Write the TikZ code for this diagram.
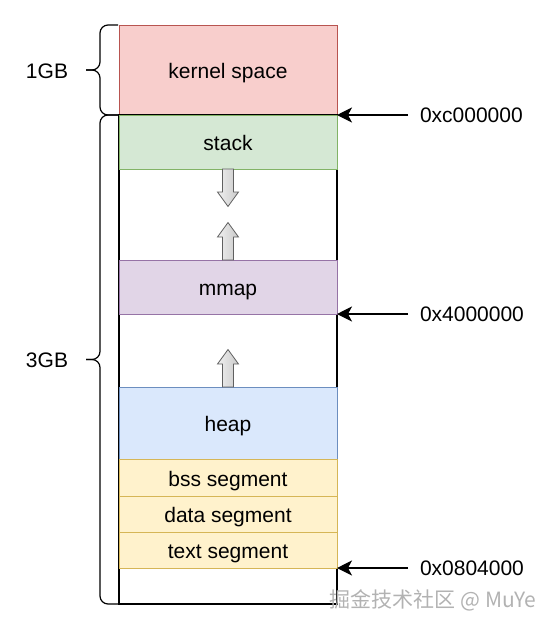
\documentclass[tikz,border=0pt]{standalone}
\usepackage{fontspec}
\setmainfont{Liberation Sans}
\newfontfamily\cjkfont{Noto Sans CJK SC}
\usetikzlibrary{positioning, calc, arrows.meta}
\definecolor{kernelfill}{HTML}{F8CECC}
\definecolor{kernelline}{HTML}{B85450}
\definecolor{stackfill}{HTML}{D5E8D4}
\definecolor{stackline}{HTML}{82B366}
\definecolor{mmapfill}{HTML}{E1D5E7}
\definecolor{mmapline}{HTML}{9673A6}
\definecolor{heapfill}{HTML}{DAE8FC}
\definecolor{heapline}{HTML}{6C8EBF}
\definecolor{segfill}{HTML}{FFF2CC}
\definecolor{segline}{HTML}{D6B656}
\tikzset{>={Stealth[length=15pt,width=15pt,inset=4pt]}}
\tikzset{
    region/.style={draw, line width=1pt, minimum width=218pt, inner sep=0pt, outer sep=0pt,
        text height=17pt, text depth=0pt},
    userbox/.style={draw=black, line width=1.2pt, minimum width=218pt, inner sep=0pt, outer sep=0pt},
    addr/.style={anchor=west, inner xsep=12pt, inner ysep=2pt, outer sep=0pt},
    pointer/.style={->, line width=1.2pt},
    gbrace/.style={line width=1.2pt, rounded corners=8pt},
    blockarrow/.pic={
        \draw[draw=gray!75!black, line width=0.8pt, left color=gray!12, right color=gray!42]
            (-0.55,0) -- (-0.55,2.3) -- (-1.05,2.3) -- (0,3.75) -- (1.05,2.3) -- (0.55,2.3) -- (0.55,0) -- cycle;
    }
}

\begin{document}
\begin{tikzpicture}[x=10pt, y=-10pt, font=\fontsize{21}{25}\selectfont]
    \useasboundingbox (0,0) rectangle (56,63);
    % kernel and user space
    \node[region, fill=kernelfill, draw=kernelline, minimum height=90pt] (kernel) at (22.8,7.0) {kernel space};
    \node[userbox, minimum height=489pt, below=0pt of kernel] (user) {};
    \node[region, fill=stackfill, draw=stackline, minimum height=54pt, below=0pt of kernel] (stack) {stack};
    \node[region, fill=mmapfill, draw=mmapline, minimum height=54pt, below=91pt of stack] (mmap) {mmap};
    \node[region, fill=heapfill, draw=heapline, minimum height=72pt, below=73pt of mmap] (heap) {heap};
    \node[region, fill=segfill, draw=segline, minimum height=37pt, below=0pt of heap] (bss) {bss segment};
    \node[region, fill=segfill, draw=segline, minimum height=36pt, below=0pt of bss] (data) {data segment};
    \node[region, fill=segfill, draw=segline, minimum height=36pt, below=0pt of data] (text) {text segment};
    % growth arrows
    \pic at (stack.south) {blockarrow};
    \pic[yscale=-1] at (mmap.north) {blockarrow};
    \pic[yscale=-1] at (heap.north) {blockarrow};
    % addresses
    \node[addr] (kaddr) at (kernel.south east -| 40.8,0) {0xc000000};
    \node[addr] (maddr) at (mmap.south east -| 40.8,0) {0x4000000};
    \node[addr] (taddr) at (text.south east -| 40.8,0) {0x0804000};
    \draw[pointer] (kaddr.west) -- (kernel.south east);
    \draw[pointer] (maddr.west) -- (mmap.south east);
    \draw[pointer] (taddr.west) -- (text.south east);
    % braces
    \draw[gbrace] (11.8,2.5) -- (10.0,2.5) -- (10.0,7.0) -- (8.6,7.0);
    \draw[gbrace] (8.6,7.0) -- (10.0,7.0) -- (10.0,11.5) -- (11.8,11.5);
    \draw[gbrace] (11.8,11.5) -- (10.0,11.5) -- (10.0,35.95) -- (8.6,35.95);
    \draw[gbrace] (8.6,35.95) -- (10.0,35.95) -- (10.0,60.4) -- (11.8,60.4);
    \node (onegb) at (4.7,7.1) {1GB};
    \node (threegb) at (4.7,36.0) {3GB};
    % watermark
    \node[text=gray!60, font=\cjkfont\fontsize{21}{25}\selectfont] (mark) at (43.3,60.0) {掘金技术社区 @ MuYe};
\end{tikzpicture}
\end{document}
